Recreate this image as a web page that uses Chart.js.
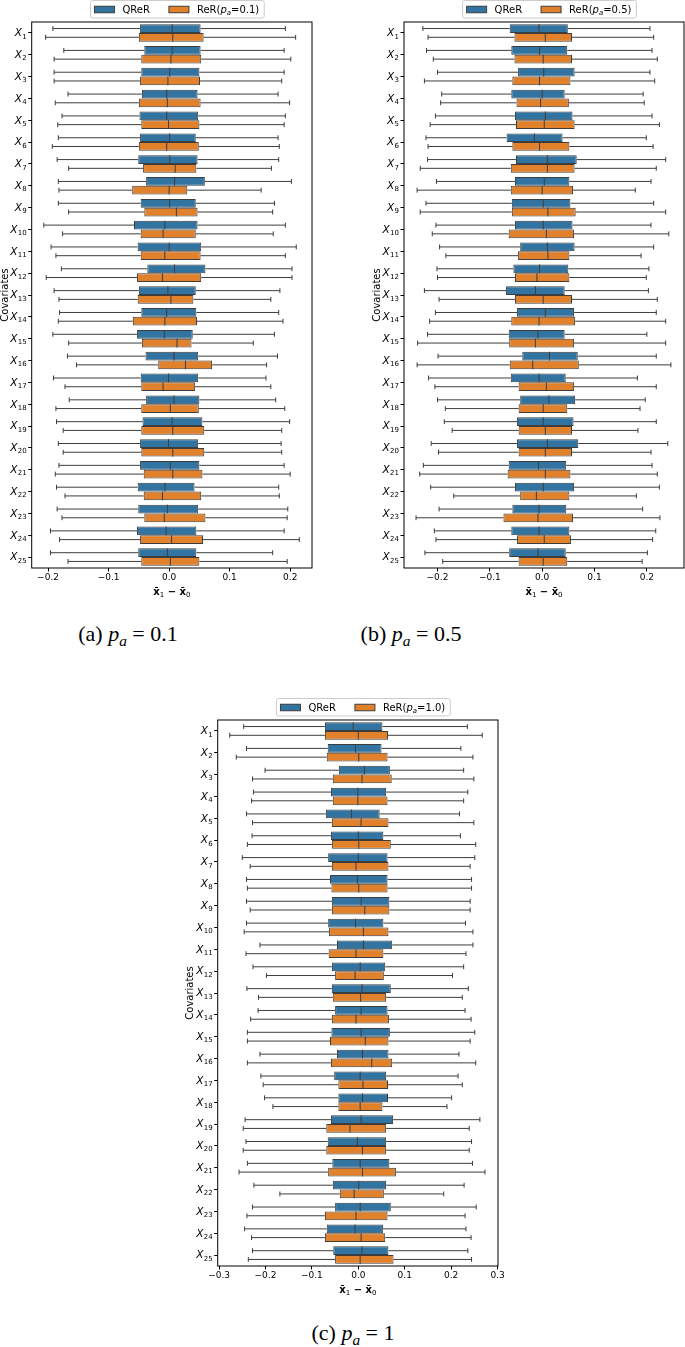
<!DOCTYPE html>
<html>
<head>
<meta charset="utf-8">
<title>QReR vs ReR covariate balance</title>
<script src="https://cdn.jsdelivr.net/npm/chart.js@4.4.1/dist/chart.umd.min.js"></script>
<style>
    html, body { margin: 0; padding: 0; background: #fff; }
    body { position: relative; width: 685px; height: 1347px; overflow: hidden; }
    canvas { position: absolute; }
    .caption {
        position: absolute;
        font-family: "Liberation Serif", "DejaVu Serif", serif;
        font-size: 22px;
        line-height: 1;
        color: #000;
        white-space: nowrap;
        transform: translate(-50%, -50%);
    }
    .caption sub { font-size: 70%; vertical-align: -0.3em; line-height: 0; }
</style>
</head>
<body>
<canvas id="chartA" width="331" height="600" style="left:-1px;top:0px"></canvas>
<canvas id="chartB" width="314" height="600" style="left:371px;top:0px"></canvas>
<canvas id="chartC" width="330" height="610" style="left:184px;top:690px"></canvas>
<div class="caption" style="left:128px;top:634px">(a) <i>p<sub>a</sub></i> = 0.1</div>
<div class="caption" style="left:411px;top:634px">(b) <i>p<sub>a</sub></i> = 0.5</div>
<div class="caption" style="left:353px;top:1333px">(c) <i>p<sub>a</sub></i> = 1</div>
<script>
(function() {
    'use strict';

    // Covariate names (category axis); drawn as X with a subscript
    var covariates = [
        'X_1', 'X_2', 'X_3', 'X_4', 'X_5', 'X_6', 'X_7', 'X_8', 'X_9', 'X_10',
        'X_11', 'X_12', 'X_13', 'X_14', 'X_15', 'X_16', 'X_17', 'X_18', 'X_19', 'X_20',
        'X_21', 'X_22', 'X_23', 'X_24', 'X_25'
    ];

    var xTicksAB = [-0.2, -0.1, 0, 0.1, 0.2];
    var xTicksC = [-0.3, -0.2, -0.1, 0, 0.1, 0.2, 0.3];

    // Box stats per covariate: [whisker low, q1, median, q3, whisker high]
    var qrerA = [
        [-0.192, -0.048, 0.005, 0.052, 0.192], [-0.174, -0.041, 0.005, 0.052, 0.190],
        [-0.190, -0.046, 0.001, 0.050, 0.190], [-0.167, -0.045, -0.004, 0.047, 0.180],
        [-0.177, -0.049, -0.004, 0.048, 0.192], [-0.183, -0.048, 0.001, 0.044, 0.180],
        [-0.185, -0.051, 0.001, 0.047, 0.181], [-0.183, -0.038, 0.009, 0.059, 0.202],
        [-0.183, -0.047, 0.001, 0.044, 0.174], [-0.207, -0.058, -0.007, 0.047, 0.192],
        [-0.195, -0.052, 0.000, 0.053, 0.210], [-0.178, -0.036, 0.009, 0.060, 0.203],
        [-0.190, -0.050, -0.002, 0.044, 0.183], [-0.181, -0.046, -0.004, 0.045, 0.181],
        [-0.192, -0.053, -0.008, 0.039, 0.174], [-0.168, -0.039, 0.008, 0.048, 0.179],
        [-0.191, -0.047, -0.001, 0.048, 0.160], [-0.165, -0.038, 0.008, 0.050, 0.176],
        [-0.186, -0.044, 0.005, 0.055, 0.199], [-0.183, -0.048, -0.001, 0.048, 0.185],
        [-0.182, -0.048, 0.002, 0.050, 0.190], [-0.186, -0.052, -0.007, 0.042, 0.181],
        [-0.185, -0.051, -0.003, 0.048, 0.196], [-0.196, -0.053, -0.005, 0.045, 0.190],
        [-0.196, -0.051, -0.003, 0.045, 0.171]
    ];
    var rerA = [
        [-0.204, -0.050, 0.006, 0.057, 0.209], [-0.190, -0.046, 0.003, 0.053, 0.201],
        [-0.190, -0.048, -0.002, 0.051, 0.186], [-0.188, -0.050, -0.003, 0.052, 0.199],
        [-0.184, -0.046, -0.001, 0.050, 0.190], [-0.193, -0.050, -0.004, 0.049, 0.182],
        [-0.166, -0.043, 0.010, 0.045, 0.169], [-0.182, -0.061, 0.000, 0.030, 0.152],
        [-0.166, -0.041, 0.012, 0.047, 0.171], [-0.176, -0.047, -0.010, 0.044, 0.172],
        [-0.187, -0.047, -0.007, 0.052, 0.192], [-0.203, -0.053, -0.011, 0.053, 0.203],
        [-0.182, -0.052, 0.003, 0.040, 0.168], [-0.183, -0.060, -0.007, 0.046, 0.188],
        [-0.166, -0.045, 0.013, 0.037, 0.139], [-0.153, -0.018, 0.027, 0.071, 0.161],
        [-0.172, -0.046, -0.010, 0.043, 0.168], [-0.187, -0.046, 0.002, 0.049, 0.191],
        [-0.175, -0.046, 0.006, 0.058, 0.186], [-0.175, -0.046, 0.006, 0.058, 0.186],
        [-0.188, -0.042, 0.006, 0.055, 0.200], [-0.172, -0.042, -0.011, 0.053, 0.182],
        [-0.177, -0.041, -0.008, 0.060, 0.195], [-0.181, -0.048, 0.004, 0.056, 0.215],
        [-0.167, -0.046, 0.002, 0.050, 0.195]
    ];

    var qrerB = [
        [-0.228, -0.062, -0.006, 0.049, 0.206], [-0.221, -0.059, -0.005, 0.048, 0.210],
        [-0.200, -0.046, 0.003, 0.062, 0.206], [-0.192, -0.059, 0.000, 0.043, 0.193],
        [-0.204, -0.052, 0.006, 0.058, 0.210], [-0.222, -0.068, -0.015, 0.039, 0.199],
        [-0.219, -0.050, 0.010, 0.066, 0.236], [-0.202, -0.052, 0.004, 0.052, 0.208],
        [-0.222, -0.058, 0.002, 0.054, 0.213], [-0.203, -0.052, 0.002, 0.058, 0.208],
        [-0.196, -0.042, 0.010, 0.062, 0.213], [-0.201, -0.055, -0.005, 0.050, 0.204],
        [-0.225, -0.069, -0.013, 0.043, 0.203], [-0.204, -0.048, 0.006, 0.061, 0.218],
        [-0.219, -0.064, -0.008, 0.043, 0.200], [-0.199, -0.038, 0.014, 0.068, 0.218],
        [-0.217, -0.060, -0.006, 0.045, 0.182], [-0.200, -0.042, 0.013, 0.063, 0.197],
        [-0.187, -0.048, 0.002, 0.060, 0.218], [-0.212, -0.048, 0.010, 0.069, 0.240],
        [-0.227, -0.064, -0.007, 0.046, 0.210], [-0.213, -0.052, 0.002, 0.061, 0.224],
        [-0.197, -0.057, -0.006, 0.046, 0.192], [-0.206, -0.059, -0.006, 0.052, 0.217],
        [-0.224, -0.063, -0.008, 0.045, 0.201]
    ];
    var rerB = [
        [-0.218, -0.053, 0.006, 0.057, 0.213], [-0.208, -0.053, 0.002, 0.057, 0.220],
        [-0.225, -0.057, -0.005, 0.054, 0.215], [-0.194, -0.049, -0.003, 0.051, 0.195],
        [-0.214, -0.050, 0.004, 0.062, 0.224], [-0.218, -0.057, -0.005, 0.052, 0.212],
        [-0.233, -0.060, 0.010, 0.062, 0.218], [-0.239, -0.060, 0.000, 0.059, 0.178],
        [-0.233, -0.058, 0.011, 0.064, 0.236], [-0.210, -0.064, 0.008, 0.061, 0.242],
        [-0.184, -0.046, 0.011, 0.052, 0.189], [-0.200, -0.052, -0.010, 0.052, 0.199],
        [-0.197, -0.052, 0.002, 0.057, 0.220], [-0.215, -0.059, -0.006, 0.063, 0.236],
        [-0.238, -0.063, -0.013, 0.061, 0.236], [-0.239, -0.062, -0.018, 0.070, 0.246],
        [-0.205, -0.045, 0.008, 0.061, 0.218], [-0.185, -0.045, 0.002, 0.048, 0.187],
        [-0.172, -0.045, 0.006, 0.057, 0.183], [-0.198, -0.045, 0.006, 0.057, 0.208],
        [-0.234, -0.066, 0.006, 0.054, 0.220], [-0.169, -0.042, -0.011, 0.052, 0.180],
        [-0.241, -0.074, -0.008, 0.059, 0.225], [-0.203, -0.048, 0.004, 0.055, 0.211],
        [-0.190, -0.045, 0.002, 0.048, 0.191]
    ];

    var qrerC = [
        [-0.247, -0.072, -0.011, 0.052, 0.235], [-0.241, -0.066, -0.006, 0.050, 0.221],
        [-0.201, -0.042, 0.013, 0.068, 0.227], [-0.226, -0.059, -0.001, 0.060, 0.236],
        [-0.241, -0.070, -0.015, 0.046, 0.218], [-0.229, -0.059, 0.000, 0.054, 0.220],
        [-0.250, -0.065, 0.000, 0.063, 0.251], [-0.241, -0.061, -0.002, 0.063, 0.244],
        [-0.241, -0.057, 0.006, 0.067, 0.241], [-0.241, -0.065, -0.006, 0.054, 0.231],
        [-0.212, -0.046, 0.011, 0.073, 0.247], [-0.227, -0.057, 0.004, 0.058, 0.227],
        [-0.240, -0.057, 0.008, 0.070, 0.237], [-0.216, -0.050, 0.006, 0.063, 0.230],
        [-0.239, -0.058, 0.006, 0.068, 0.251], [-0.212, -0.046, 0.009, 0.065, 0.217],
        [-0.210, -0.052, 0.004, 0.060, 0.215], [-0.202, -0.043, 0.009, 0.064, 0.201],
        [-0.244, -0.059, 0.006, 0.075, 0.262], [-0.242, -0.066, -0.002, 0.060, 0.244],
        [-0.239, -0.056, 0.004, 0.067, 0.246], [-0.225, -0.055, 0.001, 0.060, 0.228],
        [-0.228, -0.050, 0.004, 0.070, 0.254], [-0.245, -0.068, -0.007, 0.053, 0.232],
        [-0.228, -0.054, 0.008, 0.065, 0.236]
    ];
    var rerC = [
        [-0.277, -0.072, 0.000, 0.064, 0.267], [-0.263, -0.068, 0.001, 0.063, 0.247],
        [-0.228, -0.055, 0.008, 0.072, 0.249], [-0.230, -0.055, -0.001, 0.063, 0.227],
        [-0.228, -0.057, 0.006, 0.065, 0.249], [-0.239, -0.057, 0.001, 0.070, 0.253],
        [-0.233, -0.057, -0.005, 0.065, 0.241], [-0.239, -0.058, 0.001, 0.063, 0.244],
        [-0.233, -0.057, 0.014, 0.067, 0.241], [-0.246, -0.063, 0.011, 0.065, 0.247],
        [-0.242, -0.064, -0.005, 0.054, 0.232], [-0.198, -0.050, -0.007, 0.055, 0.203],
        [-0.215, -0.055, 0.005, 0.060, 0.224], [-0.232, -0.057, -0.005, 0.066, 0.243],
        [-0.239, -0.061, 0.015, 0.065, 0.241], [-0.239, -0.059, 0.029, 0.073, 0.253],
        [-0.205, -0.043, 0.010, 0.064, 0.224], [-0.184, -0.043, 0.004, 0.052, 0.191],
        [-0.248, -0.069, -0.018, 0.060, 0.239], [-0.248, -0.069, 0.009, 0.060, 0.239],
        [-0.257, -0.065, 0.009, 0.081, 0.273], [-0.169, -0.040, -0.009, 0.055, 0.184],
        [-0.240, -0.072, -0.005, 0.063, 0.230], [-0.230, -0.072, 0.006, 0.058, 0.243],
        [-0.237, -0.050, 0.004, 0.076, 0.244]
    ];

    var colors = {
        qrer: '#3274a1',
        rer: '#e1812c',
        line: '#3d3d3d'
    };

    var FONT = '"DejaVu Sans"';

    Chart.defaults.font.family = FONT + ', sans-serif';
    Chart.defaults.color = '#000';

    /**
     * Tick label like matplotlib: one decimal, unicode minus.
     */
    function formatTick(v) {
        var s = Math.abs(v) < 1e-9 ? '0.0' : v.toFixed(1);
        return s.replace('-', '\u2212');
    }

    /**
     * Draw (or just measure) a legend label, with "p_a" set as math.
     */
    function legendText(ctx, text, x, y, draw) {
        var parts = text.split('p_a');
        var cx = x;
        ctx.font = '10px ' + FONT;
        if (draw) { ctx.fillText(parts[0], cx, y); }
        cx += ctx.measureText(parts[0]).width;
        if (parts.length > 1) {
            ctx.font = 'italic 10px ' + FONT;
            if (draw) { ctx.fillText('p', cx, y); }
            cx += ctx.measureText('p').width;
            ctx.font = 'italic 7px ' + FONT;
            if (draw) { ctx.fillText('a', cx, y + 1.6); }
            cx += ctx.measureText('a').width;
            ctx.font = '10px ' + FONT;
            if (draw) { ctx.fillText(parts[1], cx, y); }
            cx += ctx.measureText(parts[1]).width;
        }
        return cx - x;
    }

    // Whiskers, caps and median lines on top of the floating-bar boxes
    var boxWhiskers = {
        id: 'boxWhiskers',
        afterDatasetsDraw: function(chart) {
            var ctx = chart.ctx;
            var xs = chart.scales.x;
            ctx.save();
            ctx.strokeStyle = colors.line;
            ctx.lineWidth = 1;
            chart.data.datasets.forEach(function(ds, i) {
                chart.getDatasetMeta(i).data.forEach(function(bar, j) {
                    var s = ds.stats[j];
                    var y = bar.y;
                    var half = bar.height / 2;
                    var cap = bar.height * 0.28;
                    var lo = xs.getPixelForValue(s[0]);
                    var q1 = xs.getPixelForValue(s[1]);
                    var med = xs.getPixelForValue(s[2]);
                    var q3 = xs.getPixelForValue(s[3]);
                    var hi = xs.getPixelForValue(s[4]);
                    ctx.beginPath();
                    ctx.moveTo(lo, y); ctx.lineTo(q1, y);
                    ctx.moveTo(q3, y); ctx.lineTo(hi, y);
                    ctx.moveTo(lo, y - cap); ctx.lineTo(lo, y + cap);
                    ctx.moveTo(hi, y - cap); ctx.lineTo(hi, y + cap);
                    ctx.moveTo(med, y - half); ctx.lineTo(med, y + half);
                    ctx.stroke();
                });
            });
            ctx.restore();
        }
    };

    // Axes frame, covariate labels with subscripts and the x-axis title
    var frame = {
        id: 'frame',
        afterDraw: function(chart) {
            var a = chart.chartArea;
            var ctx = chart.ctx;
            var ys = chart.scales.y;
            ctx.save();
            ctx.strokeStyle = '#000';
            ctx.lineWidth = 1;
            ctx.strokeRect(a.left, a.top, a.right - a.left, a.bottom - a.top);

            // y tick labels: italic X, upright subscript number
            ctx.fillStyle = '#000';
            ctx.textAlign = 'left';
            ctx.textBaseline = 'alphabetic';
            chart.data.labels.forEach(function(lab, i) {
                var y = ys.getPixelForTick(i);
                var num = lab.split('_')[1];
                ctx.font = '7px ' + FONT;
                var wn = ctx.measureText(num).width;
                ctx.font = 'italic 10.5px ' + FONT;
                var wx = ctx.measureText('X').width;
                var right = a.left - 5;
                ctx.fillText('X', right - wn - wx - 0.3, y + 3.3);
                ctx.font = '7px ' + FONT;
                ctx.fillText(num, right - wn, y + 5.6);
            });

            // x-axis title: bold x-bar with regular subscripts
            var pieces = [
                ['bold 10px ', 'x\u0304', 0],
                ['7px ', '1', 2],
                ['bold 10px ', ' \u2212 ', 0],
                ['bold 10px ', 'x\u0304', 0],
                ['7px ', '0', 2]
            ];
            var total = 0;
            pieces.forEach(function(p) {
                ctx.font = p[0] + FONT;
                p.push(ctx.measureText(p[1]).width);
                total += p[3];
            });
            var x = (a.left + a.right) / 2 - total / 2;
            var base = a.bottom + 26.5;
            pieces.forEach(function(p) {
                ctx.font = p[0] + FONT;
                ctx.fillText(p[1], x, base + p[2]);
                x += p[3];
            });
            ctx.restore();
        }
    };

    // Matplotlib-style legend box above the axes
    var framedLegend = {
        id: 'framedLegend',
        afterDraw: function(chart, args, opts) {
            var ctx = chart.ctx;
            var a = chart.chartArea;
            var ds = chart.data.datasets;
            ctx.save();
            var w1 = legendText(ctx, ds[0].label, 0, 0, false);
            var w2 = legendText(ctx, ds[1].label, 0, 0, false);
            var width = 4 + 20 + 8 + w1 + 19 + 20 + 8 + w2 + 5;
            var left = (a.left + a.right) / 2 + (opts.shift || 0) - width / 2;
            var top = a.top - 21.5;
            var cy = top + 9;

            ctx.beginPath();
            ctx.roundRect(left, top, width, 17.5, 2);
            ctx.fillStyle = 'rgba(255,255,255,0.8)';
            ctx.fill();
            ctx.strokeStyle = '#cccccc';
            ctx.lineWidth = 1;
            ctx.stroke();

            var x = left + 4;
            ctx.textBaseline = 'alphabetic';
            ctx.textAlign = 'left';
            [w1, w2].forEach(function(w, i) {
                ctx.fillStyle = ds[i].backgroundColor;
                ctx.fillRect(x, cy - 3.25, 20, 6.5);
                ctx.strokeStyle = colors.line;
                ctx.strokeRect(x, cy - 3.25, 20, 6.5);
                ctx.fillStyle = '#000';
                legendText(ctx, ds[i].label, x + 28, cy + 3.6, true);
                x += 28 + w + 19;
            });
            ctx.restore();
        }
    };

    /**
     * Build one panel.
     */
    function makeChart(id, panel) {
        var canvas = document.getElementById(id);
        return new Chart(canvas, {
            type: 'bar',
            data: {
                labels: covariates,
                datasets: [
                    {
                        label: 'QReR',
                        stats: panel.qrer,
                        data: panel.qrer.map(function(s) { return [s[1], s[3]]; }),
                        backgroundColor: colors.qrer,
                        borderColor: colors.line,
                        borderWidth: 1,
                        borderSkipped: false
                    },
                    {
                        label: panel.rerLabel,
                        stats: panel.rer,
                        data: panel.rer.map(function(s) { return [s[1], s[3]]; }),
                        backgroundColor: colors.rer,
                        borderColor: colors.line,
                        borderWidth: 1,
                        borderSkipped: false
                    }
                ]
            },
            options: {
                indexAxis: 'y',
                responsive: false,
                animation: false,
                events: [],
                layout: { padding: panel.padding },
                datasets: { bar: { categoryPercentage: 0.8, barPercentage: 1.0 } },
                plugins: {
                    legend: { display: false },
                    tooltip: { enabled: false },
                    framedLegend: { shift: 5.5 }
                },
                scales: {
                    x: {
                        type: 'linear',
                        min: panel.xMin,
                        max: panel.xMax,
                        afterBuildTicks: function(scale) {
                            scale.ticks = panel.xTicks.map(function(v) { return { value: v }; });
                        },
                        afterFit: function(scale) { scale.height = 29.7; },
                        ticks: {
                            font: { size: 9 },
                            padding: 1,
                            maxRotation: 0,
                            autoSkip: false,
                            callback: formatTick
                        },
                        grid: {
                            drawOnChartArea: false,
                            tickLength: 3.5,
                            tickColor: '#000',
                            tickWidth: 1
                        },
                        border: { display: false }
                    },
                    y: {
                        afterFit: function(scale) { scale.width = panel.yWidth; },
                        ticks: { display: false, autoSkip: false },
                        grid: {
                            offset: false,
                            drawOnChartArea: false,
                            tickLength: 3.5,
                            tickColor: '#000',
                            tickWidth: 1
                        },
                        border: { display: false },
                        title: {
                            display: true,
                            text: 'Covariates',
                            font: { size: 10 },
                            padding: 0
                        }
                    }
                }
            },
            plugins: [boxWhiskers, framedLegend, frame]
        });
    }

    makeChart('chartA', {
        qrer: qrerA, rer: rerA, rerLabel: 'ReR(p_a=0.1)',
        xMin: -0.227, xMax: 0.236, xTicks: xTicksAB,
        yWidth: 32.7,
        padding: { top: 22, left: 0, right: 18, bottom: 2.3 }
    });

    makeChart('chartB', {
        qrer: qrerB, rer: rerB, rerLabel: 'ReR(p_a=0.5)',
        xMin: -0.264, xMax: 0.271, xTicks: xTicksAB,
        yWidth: 33,
        padding: { top: 22, left: 0, right: 1, bottom: 2.3 }
    });

    makeChart('chartC', {
        qrer: qrerC, rer: rerC, rerLabel: 'ReR(p_a=1.0)',
        xMin: -0.303, xMax: 0.301, xTicks: xTicksC,
        yWidth: 33.7,
        padding: { top: 30, left: 0, right: 16, bottom: 4.3 }
    });

})();
</script>
</body>
</html>
